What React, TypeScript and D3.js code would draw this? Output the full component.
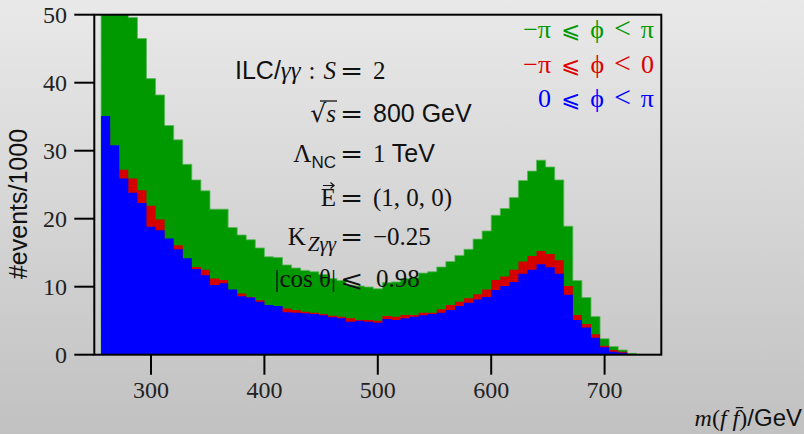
import React from "react";
import * as d3 from "d3";

// histogram bins: 8 GeV wide, first low edge at 256 GeV
const binLow = d3.range(256, 728, 8);
const binWidth = 8;

// -pi <= phi < pi (sum)
const totalPhi = [
  68, 60.3, 53.1, 49.6, 46.5, 40.6, 38.2, 33.7, 31.6, 28.0,
  25.7, 24.1, 21.4, 21.4, 18.7, 17.6, 16.9, 15.7, 14.4, 14.3,
  13.2, 12.75, 12.4, 12.2, 11.8, 11.2, 10.9, 10.2, 10.1, 9.96,
  9.7, 10.6, 10.7, 11.2, 11.4, 12.0, 12.2, 12.9, 13.7, 14.6,
  15.5, 17.0, 18.2, 20.5, 21.5, 23.1, 25.6, 27.0, 28.6, 27.6,
  25.7, 18.9, 10.9, 8.4, 5.6, 2.35, 1.2, 0.7, 0.2,
];
// -pi <= phi < 0
const negPhi = [
  33, 29.5, 27.2, 25.9, 24.2, 21.9, 19.9, 16.6, 16.1, 13.8,
  12.9, 12.5, 11.2, 11.0, 9.1, 9.0, 8.5, 8.0, 7.1, 7.1,
  6.8, 6.57, 6.33, 6.18, 5.98, 5.74, 5.59, 5.35, 5.1, 5.1,
  5.0, 5.69, 5.59, 5.84, 5.84, 6.18, 6.18, 6.67, 7.31, 7.8,
  8.29, 8.9, 9.6, 11.0, 11.5, 12.5, 13.7, 14.5, 15.25, 14.8,
  13.9, 10.1, 5.85, 4.5, 3.0, 1.3, 0.7, 0.45, 0.12,
];
// 0 <= phi < pi
const posPhi = [
  35.1, 30.8, 25.9, 23.8, 22.3, 18.8, 18.3, 17.1, 15.5, 14.2,
  12.6, 11.7, 10.25, 10.5, 9.6, 8.6, 8.4, 7.8, 7.3, 7.16,
  6.25, 6.18, 6.08, 5.98, 5.79, 5.49, 5.35, 4.86, 5.0, 4.86,
  4.7, 5.25, 5.1, 5.35, 5.59, 5.79, 5.98, 6.18, 6.57, 7.16,
  7.65, 8.1, 8.5, 9.5, 10.1, 10.7, 11.9, 12.5, 13.3, 12.85,
  11.9, 8.8, 5.1, 4.0, 2.5, 1.1, 0.45, 0.3, 0.08,
];

const xTicks = [300, 400, 500, 600, 700];
const yTicks = [0, 10, 20, 30, 40, 50];

const legendRows = [
  { lhs: "−π", rhs: "π", color: "#009900" },
  { lhs: "−π", rhs: "0", color: "#dd0000" },
  { lhs: "0", rhs: "π", color: "#0000ff" },
];

const serif = "'Liberation Serif', 'DejaVu Serif', serif";
const sans = "'Liberation Sans', Arial, sans-serif";
const sym = "'DejaVu Sans', sans-serif";

const W = 804;
const H = 434;

// wide relation sign, like the TeX one
const Rel = ({ x, y, ch }: { x: number; y: number; ch: string }) => (
  <text transform={`translate(${x},${y}) scale(1.2,1)`} fontFamily={sym} fontSize={23}>
    {ch}
  </text>
);

export default function App() {
  const x = d3.scaleLinear().domain([250, 750]).range([94.3, 661.3]);
  const y = d3.scaleLinear().domain([0, 50]).range([354.7, 14.7]);

  const area = d3
    .area<[number, number]>()
    .x((d) => x(d[0]))
    .y0(y(0))
    .y1((d) => y(d[1]))
    .curve(d3.curveStepAfter);

  const hist = (vals: number[]) => {
    const pts: [number, number][] = binLow.map((b, i) => [b, vals[i]]);
    pts.push([binLow[binLow.length - 1] + binWidth, vals[vals.length - 1]]);
    return area(pts) || "";
  };

  const [x0, x1] = x.range();
  const [yb, yt] = y.range();

  // annotation lines, relation aligned at one column
  const lhsX = 336;
  const relX = 340;
  const rhsX = 373;
  const fs = 25;

  return (
    <svg
      width={W}
      height={H}
      style={{ position: "absolute", left: 0, top: 0, display: "block" }}
    >
      <defs>
        <linearGradient id="bg" x1="0" y1="0" x2="0" y2="1">
          <stop offset="0" stopColor="#e9e9e9" />
          <stop offset="1" stopColor="#c1c1c1" />
        </linearGradient>
        <clipPath id="plot">
          <rect x={x0} y={yt} width={x1 - x0} height={yb - yt} />
        </clipPath>
      </defs>
      <rect x={0} y={0} width={W} height={H} fill="url(#bg)" />

      <g clipPath="url(#plot)">
        <path d={hist(totalPhi)} fill="#009900" stroke="#5cb85c" strokeWidth={0.8} />
        <path d={hist(negPhi)} fill="#d40000" />
        <path d={hist(posPhi)} fill="#0000ff" />
      </g>

      {/* frame + ticks */}
      <rect x={x0} y={yt} width={x1 - x0} height={yb - yt} fill="none" stroke="#000" strokeWidth={2} />
      {yTicks.map((t) => (
        <g key={"y" + t}>
          <line x1={x0 - 20} x2={x0} y1={y(t)} y2={y(t)} stroke="#000" strokeWidth={2} />
          <text x={67} y={y(t) + 8} textAnchor="end" fontFamily={serif} fontSize={24} fill="#222">
            {t}
          </text>
        </g>
      ))}
      {xTicks.map((t) => (
        <g key={"x" + t}>
          <line x1={x(t)} x2={x(t)} y1={yb} y2={yb + 20} stroke="#000" strokeWidth={2} />
          <text x={x(t)} y={398} textAnchor="middle" fontFamily={serif} fontSize={24} fill="#222">
            {t}
          </text>
        </g>
      ))}

      {/* axis titles */}
      <text
        transform="translate(27,204) rotate(-90)"
        textAnchor="middle"
        fontFamily={sans}
        fontSize={25}
        fill="#111"
      >
        #events/1000
      </text>
      <text x={802} y={426} textAnchor="end" fontSize={24} fill="#111">
        <tspan fontFamily={serif} fontStyle="italic">m</tspan>
        <tspan fontFamily={serif}>(</tspan>
        <tspan fontFamily={serif} fontStyle="italic">f f{"\u0304"}</tspan>
        <tspan fontFamily={serif}>)</tspan>
        <tspan fontFamily={sans}>/GeV</tspan>
      </text>

      {/* legend */}
      <g fontFamily={serif} fontSize={26} textAnchor="end">
        {legendRows.map((r, i) => (
          <text key={i} x={654} y={38 + i * 34.7} fill={r.color}>
            <tspan>{r.lhs}</tspan>
            <tspan fontFamily={sym} fontSize={23} dx={10}>⩽</tspan>
            <tspan dx={10}>ϕ</tspan>
            <tspan fontSize={30} dx={10}>&lt;</tspan>
            <tspan dx={10}>{r.rhs}</tspan>
          </text>
        ))}
      </g>

      {/* annotations */}
      <g fontSize={fs} fill="#111">
        <text x={lhsX} y={79} textAnchor="end">
          <tspan fontFamily={sans}>ILC/</tspan>
          <tspan fontFamily={serif} fontStyle="italic">γγ</tspan>
          <tspan fontFamily={serif} dx={8}>:</tspan>
          <tspan fontFamily={serif} fontStyle="italic" dx={8}>S</tspan>
        </text>
        <Rel x={relX} y={79} ch="=" />
        <text x={rhsX} y={79} fontFamily={serif}>2</text>

        <text x={lhsX} y={122} textAnchor="end">
          <tspan fontFamily={sym}>√</tspan>
          <tspan fontFamily={serif} fontStyle="italic">s</tspan>
        </text>
        <line x1={320} x2={337} y1={101} y2={101} stroke="#111" strokeWidth={1.3} />
        <Rel x={relX} y={122} ch="=" />
        <text x={rhsX} y={122} fontFamily={sans}>800 GeV</text>

        <text x={lhsX} y={162} textAnchor="end">
          <tspan fontFamily={serif}>Λ</tspan>
          <tspan fontFamily={sans} fontSize={17} dy={6}>NC</tspan>
        </text>
        <Rel x={relX} y={162} ch="=" />
        <text x={rhsX} y={162}>
          <tspan fontFamily={serif}>1 </tspan>
          <tspan fontFamily={sans}>TeV</tspan>
        </text>

        <text x={lhsX} y={206} textAnchor="end" fontFamily={serif}>E</text>
        <path d="M323,185.5 H334 M330.5,182.5 L334,185.5 L330.5,188.5" fill="none" stroke="#111" strokeWidth={1.2} />
        <Rel x={relX} y={206} ch="=" />
        <text x={rhsX} y={206} fontFamily={serif}>(1, 0, 0)</text>

        <text x={lhsX} y={245} textAnchor="end">
          <tspan fontFamily={serif}>K</tspan>
          <tspan fontFamily={serif} fontStyle="italic" fontSize={21} dy={6} dx={2}>Zγγ</tspan>
        </text>
        <Rel x={relX} y={245} ch="=" />
        <text x={rhsX} y={245} fontFamily={serif}>−0.25</text>

        <text x={lhsX} y={287} textAnchor="end" fontFamily={serif}>|cos θ|</text>
        <Rel x={relX} y={287} ch="⩽" />
        <text x={rhsX + 3} y={287} fontFamily={serif}>0.98</text>
      </g>
    </svg>
  );
}
